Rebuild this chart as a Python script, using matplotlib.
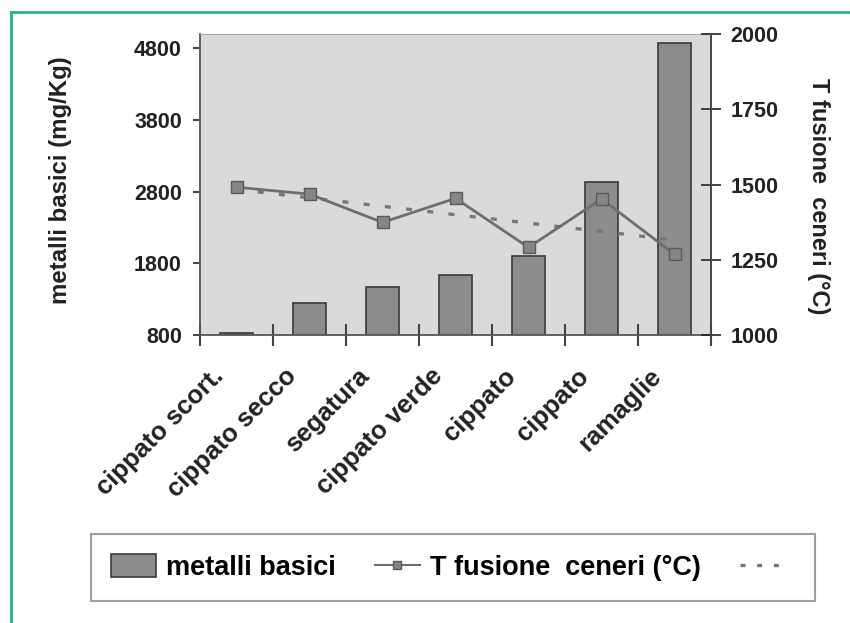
import matplotlib.pyplot as plt
import numpy as np
from matplotlib.lines import Line2D
from matplotlib.patches import Patch
import matplotlib.transforms as mtransforms

# data
categories = ['cippato scort.', 'cippato secco', 'segatura', 'cippato verde',
              'cippato', 'cippato', 'ramaglie']
metalli = [830, 1250, 1470, 1640, 1900, 2940, 4870]          # mg/Kg, left axis
t_fusione = [1491, 1468, 1374, 1454, 1291, 1452, 1268]      # °C, right axis
left_ticks = [800, 1800, 2800, 3800, 4800]
right_ticks = [1000, 1250, 1500, 1750, 2000]

plt.rcParams['font.family'] = ['Liberation Sans', 'DejaVu Sans']
plt.rcParams['font.weight'] = 'bold'

fig = plt.figure(figsize=(8.5, 6.23), dpi=100)
ax = fig.add_axes([0.2353, 0.4623, 0.6012, 0.4831])
ax.set_facecolor('#dadada')

x = np.arange(len(categories))
ax.bar(x, metalli, width=0.44, color='#8c8c8c', edgecolor='#3a3a3a',
       linewidth=1.2, zorder=2)
ax.set_xlim(-0.5, len(categories) - 0.5)
ax.set_ylim(800, 5000)
ax.set_yticks(left_ticks)
ax.tick_params(axis='y', direction='out', length=5, width=1.2, pad=8,
               labelsize=15.5, colors='#222222')
ax.set_ylabel('metalli basici (mg/Kg)', fontsize=17.3, fontweight='bold',
              color='#222222')
ax.yaxis.set_label_coords(-0.25, 0.515)

# category labels, ticks sit between the categories
ax.set_xticks(x)
ax.set_xticklabels(categories, rotation=45, ha='right', va='top',
                   rotation_mode='anchor', fontsize=18.5, color='#222222')
ax.tick_params(axis='x', which='major', length=0, pad=21)
offset = mtransforms.ScaledTranslation(-0.25, 0, fig.dpi_scale_trans)
for lbl in ax.get_xticklabels():
    lbl.set_transform(lbl.get_transform() + offset)
ax.set_xticks(np.arange(-0.5, len(categories)), minor=True)
ax.tick_params(axis='x', which='minor', direction='inout', length=16,
               width=1.5, color='#444444')

for side in ['left', 'bottom']:
    ax.spines[side].set_color('#555555')
    ax.spines[side].set_linewidth(1.3)
ax.spines['top'].set_color('#aaaaaa')
ax.spines['right'].set_visible(False)

ax2 = ax.twinx()
ax2.set_ylim(1000, 2000)
ax2.set_yticks(right_ticks)
ax2.plot(x, t_fusione, color='#6e6e6e', linewidth=2, marker='s',
         markersize=8, markerfacecolor='#858585', markeredgecolor='#5a5a5a',
         zorder=3)
coef = np.polyfit(x, t_fusione, 1)
trend = np.polyval(coef, x)
ax2.plot(x, trend, color='#777777', linewidth=2.4,
         linestyle=(0, (1.8, 4.6)), zorder=2)
ax2.tick_params(axis='y', direction='inout', length=14, width=1.2, pad=7,
                labelsize=15.5, colors='#222222')
ax2.set_ylabel('T fusione  ceneri (°C)', fontsize=17, fontweight='bold',
               rotation=270, color='#222222')
ax2.yaxis.set_label_coords(1.232, 0.46)
ax2.spines['right'].set_color('#444444')
ax2.spines['right'].set_linewidth(1.4)
for side in ['left', 'top', 'bottom']:
    ax2.spines[side].set_visible(False)

handles = [Patch(facecolor='#8c8c8c', edgecolor='#3a3a3a', linewidth=1.2),
           Line2D([], [], color='#6e6e6e', linewidth=1.5, marker='s',
                  markersize=6, markerfacecolor='#858585',
                  markeredgecolor='#5a5a5a'),
           Line2D([], [], color='#777777', linewidth=2.4,
                  linestyle=(0, (1.5, 3.5)))]
labels = ['metalli basici', 'T fusione  ceneri (°C)', '']
leg = fig.legend(handles, labels, loc='center', bbox_to_anchor=(0.533, 0.089),
                 ncol=3, fontsize=19.5, frameon=True, fancybox=False,
                 handlelength=1.65, handleheight=0.9, handletextpad=0.38,
                 columnspacing=1.45, borderpad=0.75)
leg.get_frame().set_edgecolor('#888888')
leg.get_frame().set_linewidth(1.5)

# green page frame
fig.add_artist(Line2D([0.0125, 0.0125], [0, 0.981], color='#22b87a',
                      linewidth=2, transform=fig.transFigure))
fig.add_artist(Line2D([0.0125, 1], [0.981, 0.981], color='#22b87a',
                      linewidth=2, transform=fig.transFigure))

fig.savefig('out.png', dpi=100)
